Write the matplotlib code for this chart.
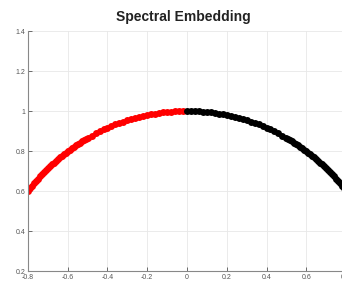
import matplotlib
matplotlib.use("Agg")
import matplotlib.pyplot as plt

red_x = [-0.80, -0.79, -0.78, -0.77, -0.76, -0.75, -0.74, -0.73, -0.72, -0.71, -0.70,
         -0.69, -0.68, -0.67, -0.66, -0.65, -0.64, -0.63, -0.62, -0.61, -0.60,
         -0.59, -0.58, -0.57, -0.56, -0.55, -0.54, -0.53, -0.52, -0.51, -0.50,
         -0.48, -0.46, -0.44, -0.42, -0.40, -0.38, -0.36, -0.34, -0.32, -0.30,
         -0.28, -0.26, -0.24, -0.22, -0.20, -0.18, -0.16, -0.14, -0.12, -0.10,
         -0.08, -0.06, -0.04, -0.02]
red_y = [0.600, 0.613, 0.626, 0.638, 0.650, 0.661, 0.673, 0.683, 0.694, 0.704, 0.714,
         0.724, 0.733, 0.742, 0.751, 0.760, 0.768, 0.777, 0.785, 0.792, 0.800,
         0.807, 0.815, 0.822, 0.828, 0.835, 0.842, 0.848, 0.854, 0.860, 0.866,
         0.877, 0.888, 0.898, 0.908, 0.917, 0.925, 0.933, 0.940, 0.947, 0.954,
         0.960, 0.966, 0.971, 0.976, 0.980, 0.984, 0.987, 0.990, 0.993, 0.995,
         0.997, 0.998, 0.999, 1.000]

black_x = [0.00, 0.02, 0.04, 0.06, 0.08, 0.10, 0.12, 0.14, 0.16, 0.18, 0.20,
           0.22, 0.24, 0.26, 0.28, 0.30, 0.32, 0.34, 0.36, 0.38, 0.40,
           0.42, 0.44, 0.46, 0.48, 0.50, 0.51, 0.52, 0.53, 0.54, 0.55,
           0.56, 0.57, 0.58, 0.59, 0.60, 0.61, 0.62, 0.63, 0.64, 0.65,
           0.66, 0.67, 0.68, 0.69, 0.70, 0.71, 0.72, 0.73, 0.74, 0.75,
           0.76, 0.77, 0.78, 0.79, 0.80]
black_y = [1.000, 1.000, 0.999, 0.998, 0.997, 0.995, 0.993, 0.990, 0.987, 0.984, 0.980,
           0.976, 0.971, 0.966, 0.960, 0.954, 0.947, 0.940, 0.933, 0.925, 0.917,
           0.908, 0.898, 0.888, 0.877, 0.866, 0.860, 0.854, 0.848, 0.842, 0.835,
           0.828, 0.822, 0.815, 0.807, 0.800, 0.792, 0.785, 0.777, 0.768, 0.760,
           0.751, 0.742, 0.733, 0.724, 0.714, 0.704, 0.694, 0.683, 0.673, 0.661,
           0.650, 0.638, 0.626, 0.613, 0.600]

x_ticks = [-0.8, -0.6, -0.4, -0.2, 0, 0.2, 0.4, 0.6, 0.8]
x_tick_labels = ["-0.8", "-0.6", "-0.4", "-0.2", "0", "0.2", "0.4", "0.6", "0.8"]
y_ticks = [0.2, 0.4, 0.6, 0.8, 1.0, 1.2, 1.4]
y_tick_labels = ["0.2", "0.4", "0.6", "0.8", "1", "1.2", "1.4"]
title = "Spectral Embedding"

plt.rcParams['font.family'] = ['Liberation Sans', 'DejaVu Sans']

fig = plt.figure(figsize=(3.42, 2.87), dpi=100)
ax = fig.add_axes([28/342, 16/287, 318/342, 240/287])

ax.plot(red_x, red_y, 'o', color='#ff0000', markersize=5.0, markeredgewidth=0)
ax.plot(black_x, black_y, 'o', color='#000000', markersize=5.0, markeredgewidth=0)

ax.set_xlim(-0.8, 0.8)
ax.set_ylim(0.2, 1.4)
ax.set_xticks(x_ticks)
ax.set_xticklabels(x_tick_labels)
ax.set_yticks(y_ticks)
ax.set_yticklabels(y_tick_labels)
ax.grid(True, color='#e8e8e8', linewidth=0.6)
ax.set_axisbelow(True)
ax.tick_params(direction='in', length=3, width=0.6, labelsize=5, colors='#555555', pad=2)
for s in ['top', 'right']:
    ax.spines[s].set_visible(False)
for s in ['left', 'bottom']:
    ax.spines[s].set_color('#888888')
    ax.spines[s].set_linewidth(0.8)

ax.set_title(title, fontsize=10, fontweight='bold', pad=7, color='#222222',
             x=0.49)

fig.savefig("out.png", dpi=100)
